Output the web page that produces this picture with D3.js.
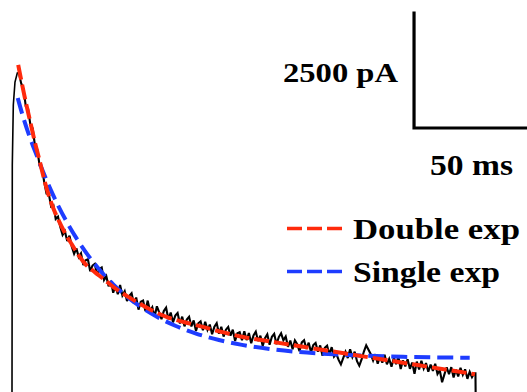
<!DOCTYPE html>
<html>
<head>
<meta charset="utf-8">
<script src="https://cdn.jsdelivr.net/npm/d3@7"></script>
<style>
  html, body { margin: 0; padding: 0; background: #fff; overflow: hidden; }
  svg { display: block; }
  text { font-family: "Liberation Serif", "Times New Roman", Times, serif; font-weight: bold; fill: #000; }
</style>
</head>
<body>
<svg id="chart" width="527" height="392"></svg>
<script>
// ---------------- data ----------------
// Recorded current trace: rise phase (time ms, current pA)
const riseTime    = [0, 0.13, 0.57, 1.3, 2.3];
const riseCurrent = [-100, 4935, 6239, 6739, 6935];

// Decay phase sampled every 1 ms starting at 3 ms
const decayStart = 3;
const decayStep = 1;
const decayCurrent = [
  6932, 6708, 6584, 6210, 6152, 5806, 5730, 5348, 5274, 4922,
  4892, 4566, 4314, 4306, 4030, 4062, 3762, 3814, 3588, 3416,
  3496, 3280, 3398, 3156, 3004, 3122, 2934, 3016, 2758, 2865,
  2887, 2626, 2748, 2785, 2534, 2674, 2706, 2432, 2518, 2298,
  2415, 2159, 2304, 2125, 2324, 2096, 2190, 1977, 2089, 2148,
  1921, 2054, 1791, 1961, 1988, 1762, 1987, 1759, 1842, 1637,
  1864, 1733, 1584, 1760, 1832, 1582, 1728, 1515, 1662, 1719,
  1489, 1638, 1427, 1576, 1635, 1425, 1556, 1327, 1494, 1536,
  1343, 1528, 1352, 1465, 1254, 1420, 1497, 1268, 1416, 1205,
  1355, 1415, 1223, 1355, 1110, 1278, 1302, 1128, 1318, 1129,
  1283, 1059, 1230, 1312, 1106, 1223, 999, 1171, 1253, 1028,
  1200, 1264, 1040, 1194, 1276, 1124, 1206, 982, 1118, 930,
  1120, 1040, 888, 1078, 1124, 936, 1072, 866, 1020, 1066,
  878, 1014, 790, 962, 1008, 820, 974, 768, 832, 698,
  600, 736, 872, 738, 928, 758, 876, 670, 572, 708,
  880, 1016, 918, 820, 686, 822, 616, 770, 636, 808,
  602, 720, 550, 740, 606, 760, 500, 690, 556, 710,
  504, 640, 398, 660, 490, 680, 510, 628, 440, 594,
  460, 614, 390, 472, 212, 384, 538, 386, 540, 316,
  488, 336, 526, 374, 492, 286, 440, 324, 406
];
// Offset of trace end
const endTime    = [201.5, 201.6];
const endCurrent = [406, -100];

// Double exponential fit (time ms, current pA)
const doubleTime    = [2.7, 4, 6, 8, 10, 12, 14, 16, 18, 20, 23, 26, 29, 32, 36, 40, 44, 50, 56, 62, 68, 75, 83, 92, 100, 109, 116, 130, 145, 160, 175, 190, 201.3];
const doubleCurrent = [7110, 6780, 6300, 5860, 5420, 5030, 4620, 4270, 3990, 3760, 3460, 3210, 2970, 2775, 2605, 2450, 2285, 2085, 1907, 1745, 1618, 1517, 1415, 1295, 1200, 1125, 1068, 956, 836, 716, 596, 476, 386];

// Single exponential fit (time ms, current pA)
const singleTime    = [2.5, 5, 8, 11, 14, 17, 20, 24, 28, 33, 38, 44, 50, 56, 63, 71, 80, 90, 100, 112, 125, 140, 155, 170, 185, 199];
const singleCurrent = [6391, 5950, 5500, 5110, 4727, 4378, 4060, 3681, 3344, 2977, 2660, 2338, 2072, 1849, 1635, 1441, 1271, 1130, 1025, 935, 868, 818, 786, 765, 752, 744];

// Scale bars
const scaleBarTime = 50;      // ms
const scaleBarCurrent = 2500; // pA
const scaleBarLabels = ["2500 pA", "50 ms"];

// Legend
const legendLabels = ["Double exp", "Single exp"];
const legendColors = ["#ff2a0c", "#1e3cff"];

// ---------------- drawing ----------------
const W = 527, H = 392;
const svg = d3.select("#chart");
svg.append("rect").attr("width", W).attr("height", H).attr("fill", "#fff");

const x = d3.scaleLinear().domain([0, 220]).range([12, 12 + 220 * 2.3]);
const y = d3.scaleLinear().domain([0, 8522]).range([392, 0]);

const clip = svg.append("defs").append("clipPath").attr("id", "clip");
clip.append("rect").attr("width", W).attr("height", H);

const plot = svg.append("g").attr("clip-path", "url(#clip)");

// build trace
const trace = [];
riseTime.forEach((t, i) => trace.push([t, riseCurrent[i]]));
decayCurrent.forEach((v, i) => trace.push([decayStart + i * decayStep, v]));
endTime.forEach((t, i) => trace.push([t, endCurrent[i]]));

const line = d3.line().x(d => x(d[0])).y(d => y(d[1]));
const smooth = d3.line().x(d => x(d[0])).y(d => y(d[1])).curve(d3.curveMonotoneX);

plot.append("path")
  .datum(trace.slice(0, 6))
  .attr("d", line)
  .attr("fill", "none")
  .attr("stroke", "#000")
  .attr("stroke-width", 1.6);

plot.append("path")
  .datum(trace.slice(4))
  .attr("d", line)
  .attr("fill", "none")
  .attr("stroke", "#000")
  .attr("stroke-width", 2.1)
  .attr("stroke-linejoin", "miter")
  .attr("stroke-miterlimit", 3);

const singleData = singleTime.map((t, i) => [t, singleCurrent[i]]);
plot.append("path")
  .datum(singleData)
  .attr("d", smooth)
  .attr("fill", "none")
  .attr("stroke", legendColors[1])
  .attr("stroke-width", 4)
  .attr("stroke-dasharray", "16,7");

const doubleData = doubleTime.map((t, i) => [t, doubleCurrent[i]]);
plot.append("path")
  .datum(doubleData)
  .attr("d", smooth)
  .attr("fill", "none")
  .attr("stroke", legendColors[0])
  .attr("stroke-width", 4)
  .attr("stroke-dasharray", "15,5");

// scale bar
const barT0 = 174.8, barI0 = 5739;
const sb = svg.append("g");
sb.append("path")
  .attr("d", `M${x(barT0)},${y(barI0 + scaleBarCurrent)} L${x(barT0)},${y(barI0)} L${x(barT0 + scaleBarTime)},${y(barI0)}`)
  .attr("fill", "none")
  .attr("stroke", "#000")
  .attr("stroke-width", 3.2)
  .attr("stroke-linecap", "square")
  .attr("stroke-linejoin", "miter");

sb.append("text")
  .attr("x", 283).attr("y", 82)
  .attr("font-size", 28)
  .attr("textLength", 115).attr("lengthAdjust", "spacingAndGlyphs")
  .text(scaleBarLabels[0]);

sb.append("text")
  .attr("x", 430).attr("y", 175)
  .attr("font-size", 29)
  .attr("textLength", 83).attr("lengthAdjust", "spacingAndGlyphs")
  .text(scaleBarLabels[1]);

// legend
const legendY = [228.5, 271.5];
const legendTextW = [167, 147];
const lg = svg.append("g");
legendLabels.forEach((lab, i) => {
  lg.append("line")
    .attr("x1", 287).attr("x2", 346)
    .attr("y1", legendY[i]).attr("y2", legendY[i])
    .attr("stroke", legendColors[i])
    .attr("stroke-width", 3.4)
    .attr("stroke-dasharray", "15,5");
  lg.append("text")
    .attr("x", 353).attr("y", legendY[i] + 10)
    .attr("font-size", 29)
    .attr("textLength", legendTextW[i]).attr("lengthAdjust", "spacingAndGlyphs")
    .text(lab);
});
</script>
</body>
</html>
